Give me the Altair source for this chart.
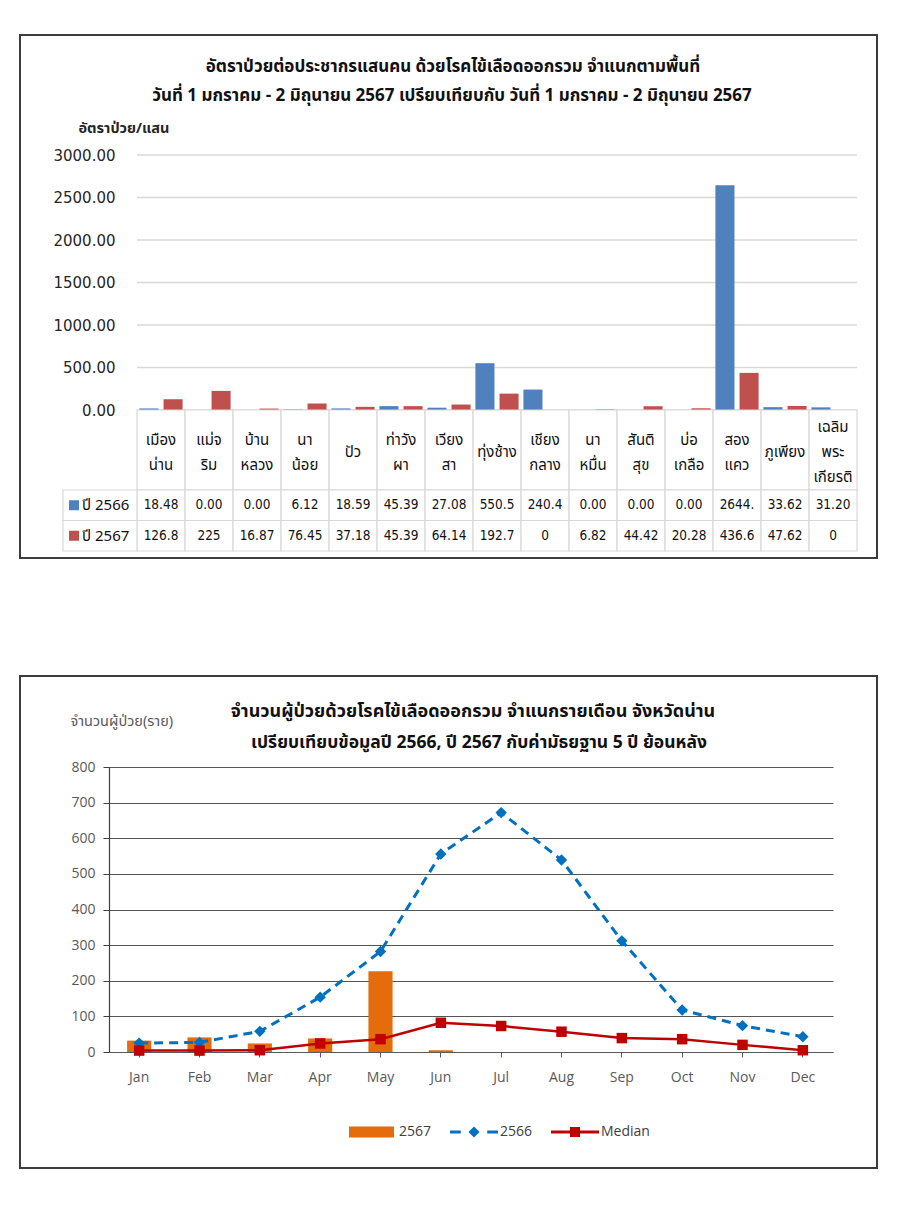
import altair as alt
import pandas as pd

# ---------------- top chart data ----------------
districts = ["เมือง\nน่าน", "แม่จ\nริม", "บ้าน\nหลวง", "นา\nน้อย", "ปัว", "ท่าวัง\nผา",
             "เวียง\nสา", "ทุ่งช้าง", "เชียง\nกลาง", "นา\nหมื่น", "สันติ\nสุข", "บ่อ\nเกลือ",
             "สอง\nแคว", "ภูเพียง", "เฉลิม\nพระ\nเกียรติ"]
years = ["ปี 2566", "ปี 2567"]
rate_2566 = [18.48, 0.00, 0.00, 6.12, 18.59, 45.39, 27.08, 550.5, 240.4, 0.00, 0.00, 0.00, 2644.0, 33.62, 31.20]
rate_2567 = [126.8, 225, 16.87, 76.45, 37.18, 45.39, 64.14, 192.7, 0, 6.82, 44.42, 20.28, 436.6, 47.62, 0]
table_2566 = ["18.48", "0.00", "0.00", "6.12", "18.59", "45.39", "27.08", "550.5", "240.4",
              "0.00", "0.00", "0.00", "2644.", "33.62", "31.20"]
table_2567 = ["126.8", "225", "16.87", "76.45", "37.18", "45.39", "64.14", "192.7", "0",
              "6.82", "44.42", "20.28", "436.6", "47.62", "0"]
rate_ticks = [0, 500, 1000, 1500, 2000, 2500, 3000]
top_title1 = "อัตราป่วยต่อประชากรแสนคน ด้วยโรคไข้เลือดออกรวม จำแนกตามพื้นที่"
top_title2 = "วันที่ 1 มกราคม - 2 มิถุนายน 2567 เปรียบเทียบกับ วันที่ 1 มกราคม - 2 มิถุนายน 2567"
top_ytitle = "อัตราป่วย/แสน"

# ---------------- bottom chart data ----------------
months = ["Jan", "Feb", "Mar", "Apr", "May", "Jun", "Jul", "Aug", "Sep", "Oct", "Nov", "Dec"]
cases_2567 = [32, 41, 24, 38, 227, 5, None, None, None, None, None, None]
cases_2566 = [25, 27, 58, 154, 282, 556, 672, 539, 312, 118, 74, 43]
median_5yr = [4, 4, 5, 24, 36, 82, 73, 57, 39, 36, 20, 5]
case_ticks = [0, 100, 200, 300, 400, 500, 600, 700, 800]
series = ["2567", "2566", "Median"]
bot_title1 = "จำนวนผู้ป่วยด้วยโรคไข้เลือดออกรวม จำแนกรายเดือน จังหวัดน่าน"
bot_title2 = "เปรียบเทียบข้อมูลปี 2566, ปี 2567  กับค่ามัธยฐาน 5 ปี ย้อนหลัง"
bot_ytitle = "จำนวนผู้ป่วย(ราย)"

# ---------------- styles ----------------
THAI = "Noto Sans Thai, Noto Sans, DejaVu Sans, sans-serif"
NUM = "DejaVu Sans"
NUMC = "DejaVu Sans Condensed, DejaVu Sans"
LAT = "Open Sans, Noto Sans, sans-serif"
BLUE, RED = "#4F81BD", "#C0504D"
ORANGE, BLUE2, RED2 = "#E46C0A", "#0070C0", "#C00000"
GRID = "#d9d9d9"
FRAME = "#3c3c3c"

one = pd.DataFrame({"k": [0]})

# ================= TOP PANEL =================
W = 748
XR = [28, W]

bar_df = pd.DataFrame({
    "district": districts * 2,
    "year": [years[0]] * len(districts) + [years[1]] * len(districts),
    "value": rate_2566 + rate_2567,
})
tab_df = pd.DataFrame({
    "district": districts * 2,
    "row": [years[0]] * len(districts) + [years[1]] * len(districts),
    "label": table_2566 + table_2567,
})
row_df = pd.DataFrame({"row": years})
head_df = pd.DataFrame({"district": districts, "nlines": [d.count("\n") + 1 for d in districts]})


def x_dist():
    return alt.X("district:N", scale=alt.Scale(domain=districts, range=XR, paddingInner=0, paddingOuter=0),
                 axis=None)


top_yaxis = alt.Axis(values=rate_ticks, format=".2f", offset=-28, grid=False, domain=False, ticks=False,
                     labelPadding=22, labelFont=NUM, labelFontSize=15, labelColor="#262626",
                     title=top_ytitle, titleAngle=0, titleAlign="left", titleBaseline="middle",
                     titleX=-59, titleY=-27, titleFont=THAI, titleFontSize=14.5, titleFontWeight="bold",
                     titleColor="#262626")
top_yscale = alt.Scale(domain=[0, 3000])

frame_top = alt.Chart(one).mark_rect(fillOpacity=0, stroke=FRAME, strokeWidth=2).encode(
    x=alt.value(-89), x2=alt.value(768), y=alt.value(-120), y2=alt.value(403))
t1 = alt.Chart(one).mark_text(text=top_title1, font=THAI, fontSize=17, fontWeight="bold", color="#111").encode(
    x=alt.value(344), y=alt.value(-88))
t2 = alt.Chart(one).mark_text(text=top_title2, font=THAI, fontSize=17, fontWeight="bold", color="#111").encode(
    x=alt.value(343), y=alt.value(-59))

grid_top = alt.Chart(pd.DataFrame({"v": rate_ticks})).mark_rule(color=GRID, strokeWidth=1.5).encode(
    y=alt.Y("v:Q", scale=top_yscale, axis=top_yaxis), x=alt.value(28), x2=alt.value(W))

bars = alt.Chart(bar_df).mark_bar().encode(
    x=x_dist(),
    xOffset=alt.XOffset("year:N", scale=alt.Scale(domain=years, paddingInner=0.21, paddingOuter=0.1)),
    y=alt.Y("value:Q", scale=top_yscale, axis=top_yaxis),
    color=alt.Color("year:N", scale=alt.Scale(domain=years, range=[BLUE, RED]), legend=None),
)

top_bars = alt.layer(frame_top, grid_top, bars, t1, t2).properties(width=W, height=255)

head_rect = alt.Chart(head_df).mark_rect(fill="white", stroke=GRID, strokeWidth=1.2).encode(
    x=x_dist(), y=alt.value(0), y2=alt.value(80))
head_text = alt.Chart(head_df).mark_text(font=THAI, fontSize=15, lineBreak="\n", lineHeight=25,
                                         color="#111").encode(
    x=x_dist(),
    y=alt.Y("nlines:Q", scale=alt.Scale(domain=[1, 3], range=[42, 17]), axis=None),
    text="district:N")
header = alt.layer(head_rect, head_text).properties(width=W, height=80)


def y_row():
    return alt.Y("row:N", scale=alt.Scale(domain=years, paddingInner=0, paddingOuter=0), axis=None)


cell_rect = alt.Chart(tab_df).mark_rect(fill="white", stroke=GRID, strokeWidth=1.2).encode(
    x=x_dist(), y=y_row())
cell_text = alt.Chart(tab_df).mark_text(font=NUMC, fontSize=13.5, color="#111").encode(
    x=x_dist(), y=y_row(), text="label:N")
lab_rect = alt.Chart(row_df).mark_rect(fill="white", stroke=GRID, strokeWidth=1.2).encode(
    x=alt.value(-46), x2=alt.value(28), y=y_row())
lab_sq = alt.Chart(row_df).mark_square(size=100, opacity=1).encode(
    x=alt.value(-35), y=y_row(),
    color=alt.Color("row:N", scale=alt.Scale(domain=years, range=[BLUE, RED]), legend=None))
lab_text = alt.Chart(row_df).mark_text(font=THAI, fontSize=15, align="left", color="#111").encode(
    x=alt.value(-27), y=y_row(), text="row:N")
rows = alt.layer(cell_rect, cell_text, lab_rect, lab_sq, lab_text).properties(width=W, height=61)

top_panel = alt.vconcat(top_bars, header, rows, spacing=0, bounds="flush")

# ================= BOTTOM PANEL =================
BW, BH = 724, 285
case_df = pd.DataFrame({"month": months, "c2567": cases_2567, "c2566": cases_2566, "med": median_5yr})

mscale = alt.Scale(domain=months, paddingInner=0.6, paddingOuter=0.3)
xaxis_b = alt.Axis(title=None, labelAngle=0, labelFont=LAT, labelFontSize=14, labelColor="#595959",
                   labelPadding=13, ticks=True, tickSize=5, tickColor="#595959",
                   domain=True, domainColor="#595959", domainWidth=1.2)
yscale = alt.Scale(domain=[0, 800])
yaxis_b = alt.Axis(values=case_ticks, grid=True, gridColor="#555555", gridWidth=1.2,
                   domain=True, domainColor="#404040", domainWidth=1.2, ticks=True, tickSize=6,
                   tickColor="#404040", labelFont=LAT, labelFontSize=14, labelColor="#595959",
                   labelPadding=8, title=bot_ytitle, titleAngle=0, titleAlign="left",
                   titleBaseline="middle", titleX=-39, titleY=-46, titleFont=THAI, titleFontSize=14.5,
                   titleFontWeight="normal", titleColor="#595959")


def xm():
    return alt.X("month:N", scale=mscale, axis=xaxis_b)


def ym(field):
    return alt.Y(field, scale=yscale, axis=yaxis_b)


frame_bot = alt.Chart(one).mark_rect(fillOpacity=0, stroke=FRAME, strokeWidth=2).encode(
    x=alt.value(-89), x2=alt.value(768), y=alt.value(-91), y2=alt.value(401))
b1 = alt.Chart(one).mark_text(text=bot_title1, font=THAI, fontSize=18, fontWeight="bold", color="#111").encode(
    x=alt.value(364), y=alt.value(-55))
b2 = alt.Chart(one).mark_text(text=bot_title2, font=THAI, fontSize=17.5, fontWeight="bold", color="#111").encode(
    x=alt.value(370), y=alt.value(-24))

cbars = alt.Chart(case_df).mark_bar(color=ORANGE).encode(x=xm(), y=ym("c2567:Q"))
line66 = alt.Chart(case_df).mark_line(color=BLUE2, strokeWidth=3, strokeDash=[9, 6]).encode(
    x=xm(), y=ym("c2566:Q"))
pts66 = alt.Chart(case_df).mark_point(shape="diamond", filled=True, size=130, color=BLUE2, opacity=1).encode(
    x=xm(), y=ym("c2566:Q"))
linemed = alt.Chart(case_df).mark_line(color=RED2, strokeWidth=2.5).encode(x=xm(), y=ym("med:Q"))
ptsmed = alt.Chart(case_df).mark_square(size=110, color=RED2, opacity=1).encode(x=xm(), y=ym("med:Q"))

P_RECT = "M-1,-0.23H0.875V0.23H-1Z"
P_DASH = "M-1,-0.065H-0.55V0.065H-1Z M-0.23,0L0,-0.23L0.23,0L0,0.23Z M0.55,-0.065H1V0.065H0.55Z"
P_MED = "M-1,-0.06H1V0.06H-1Z M-0.21,-0.21H0.21V0.21H-0.21Z"

leg = alt.Legend(orient="none", legendX=240, legendY=341, direction="horizontal", columns=3, title=None,
                 symbolSize=2304, symbolStrokeWidth=0, symbolOpacity=1, labelFont=LAT, labelFontSize=14,
                 labelColor="#404040", labelOffset=2, columnPadding=18, padding=0)
# legend-only layer: its points sit far below the plot and are clipped away
leg_df = pd.DataFrame({"series": series, "month": ["Jan"] * 3, "v": [-5000, -5000, -5000]})
dummy = alt.Chart(leg_df).mark_point(filled=True, clip=True).encode(
    x=xm(), y=ym("v:Q"),
    color=alt.Color("series:N", scale=alt.Scale(domain=series, range=[ORANGE, BLUE2, RED2]), legend=leg),
    shape=alt.Shape("series:N", scale=alt.Scale(domain=series, range=[P_RECT, P_DASH, P_MED]), legend=leg),
)

bottom = alt.layer(frame_bot, cbars, line66, linemed, pts66, ptsmed, dummy, b1, b2).properties(width=BW, height=BH)

chart = alt.vconcat(top_panel, bottom, spacing=116).resolve_scale(
    color="independent", shape="independent"
).properties(
    padding={"left": 11, "top": 26, "right": 0, "bottom": 0}, background="white"
).configure_view(strokeWidth=0)

chart.save("out.html", embed_options={"renderer": "svg", "actions": False})
